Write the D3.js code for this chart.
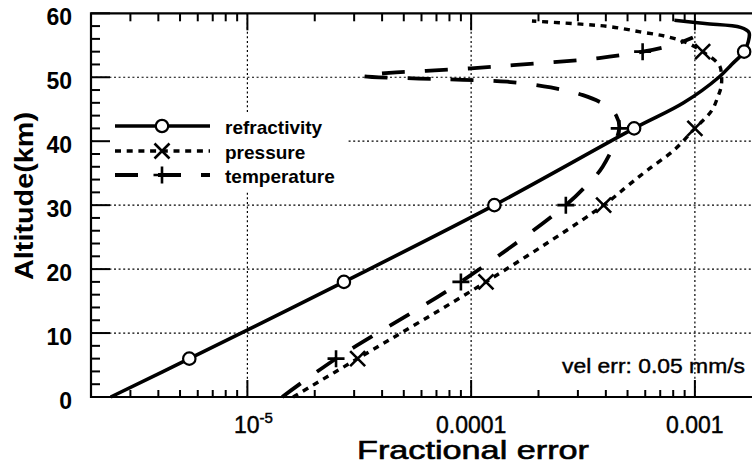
<!DOCTYPE html>
<html>
<head>
<meta charset="utf-8">
<script src="https://cdn.jsdelivr.net/npm/d3@7"></script>
<style>
  html, body { margin: 0; padding: 0; background: #fff; }
  svg { display: block; }
  text { font-family: "Liberation Sans", Arial, Helvetica, sans-serif; fill: #000; }
</style>
</head>
<body>
<svg id="chart" width="752" height="463"></svg>
<script>
// ---------------- data (altitude in km, fractional error) ----------------
const refrAlt = [0, 6, 18, 30, 42, 46, 50, 52, 54, 55.5, 57, 57.8, 58.4, 58.9];
const refrVal = [2.45e-6, 5.5e-6, 2.7e-5, 1.27e-4, 5.35e-4, 8.9e-4, 1.28e-3, 1.46e-3, 1.66e-3, 1.73e-3, 1.745e-3, 1.6e-3, 1.11e-3, 8.1e-4];

const presAlt = [0, 6, 18, 30, 33, 35.5, 38.6, 42, 44.8, 46.9, 48.5, 50.3, 51.9, 54, 55.4, 56.4, 57.1, 57.9, 58.3, 58.8];
const presVal = [1.6e-5, 3.11e-5, 1.165e-4, 3.91e-4, 5.0e-4, 6.15e-4, 8.06e-4, 1.0e-3, 1.19e-3, 1.265e-3, 1.31e-3, 1.315e-3, 1.285e-3, 1.083e-3, 9.2e-4, 7.4e-4, 5.7e-4, 4.2e-4, 3.1e-4, 1.87e-4];

const tempAlt = [0, 6, 18, 30, 33, 36, 42, 44, 45.6, 47.2, 48.4, 49.3, 49.6, 49.8, 50.2, 50.7, 51.0, 51.4, 51.9, 52.4, 53.0, 54, 55.2, 56.2];
const tempVal = [1.43e-5, 2.49e-5, 9.0e-5, 2.65e-4, 3.26e-4, 3.87e-4, 4.59e-4, 4.45e-4, 4.0e-4, 3.16e-4, 2.27e-4, 1.45e-4, 9.2e-5, 5.85e-5, 3.3e-5, 4.3e-5, 6.3e-5, 1.0e-4, 1.54e-4, 2.42e-4, 3.73e-4, 5.84e-4, 8.24e-4, 9.8e-4];

const markerAlts = [6, 18, 30, 42, 54];
const seriesNames = ["refractivity", "pressure", "temperature"];

const yMajorTicks = [0, 10, 20, 30, 40, 50, 60];
const yGridTicks = [10, 20, 30, 40, 50];
const xMajorTicks = [1e-5, 1e-4, 1e-3];
const xTickLabels = [["10", "-5"], ["0.0001", ""], ["0.001", ""]];
const xLabel = "Fractional error";
const yLabel = "Altitude(km)";
const note = "vel err: 0.05 mm/s";

// ---------------- scales ----------------
const svg = d3.select("#chart");
const pL = 91, pR = 752, pT = 13.3, pB = 397;
const x = d3.scaleLog().domain([2e-6, 1.8e-3]).range([pL, pR]);
const y = d3.scaleLinear().domain([0, 60]).range([pB, pT]);

// ---------------- grid ----------------
const grid = svg.append("g").attr("stroke", "#000").attr("stroke-width", 1.2).attr("stroke-dasharray", "2,2.6");
grid.selectAll(".gy").data(yGridTicks).join("line")
  .attr("x1", pL).attr("x2", pR).attr("y1", d => y(d)).attr("y2", d => y(d));
grid.selectAll(".gx").data(xMajorTicks).join("line")
  .attr("x1", d => x(d)).attr("x2", d => x(d)).attr("y1", pT).attr("y2", pB);

// legend background (hides the grid behind the legend)
svg.append("rect").attr("x", 93).attr("y", 112).attr("width", 254).attr("height", 78).attr("fill", "#fff");

// ---------------- ticks ----------------
const xMinor = x.ticks().filter(v => v > 2.05e-6 && xMajorTicks.every(m => Math.abs(v / m - 1) > 1e-6));
const yMinor = d3.range(2, 60, 2).filter(v => v % 10 !== 0);
const tk = svg.append("g").attr("stroke", "#000").attr("stroke-width", 2);
tk.selectAll(".bxm").data(xMinor).join("line")
  .attr("x1", d => x(d)).attr("x2", d => x(d)).attr("y1", pB).attr("y2", pB - 7);
tk.selectAll(".bxM").data(xMajorTicks).join("line")
  .attr("x1", d => x(d)).attr("x2", d => x(d)).attr("y1", pB).attr("y2", pB - 17);
tk.selectAll(".txm").data(xMinor).join("line")
  .attr("x1", d => x(d)).attr("x2", d => x(d)).attr("y1", pT).attr("y2", pT + 8);
tk.selectAll(".txM").data(xMajorTicks).join("line")
  .attr("x1", d => x(d)).attr("x2", d => x(d)).attr("y1", pT).attr("y2", pT + 17);
tk.selectAll(".lym").data(yMinor).join("line")
  .attr("x1", pL).attr("x2", pL + 9).attr("y1", d => y(d)).attr("y2", d => y(d));
tk.selectAll(".lyM").data(yMajorTicks).join("line")
  .attr("x1", pL).attr("x2", pL + 19).attr("y1", d => y(d)).attr("y2", d => y(d));

svg.append("path")
  .attr("d", `M${pR + 2},${pT} H${pL} V${pB} H${pR + 2}`)
  .attr("fill", "none").attr("stroke", "#000").attr("stroke-width", 2.2);

// ---------------- tick labels ----------------
svg.append("g").selectAll("text").data(yMajorTicks).join("text")
  .attr("x", 72).attr("y", d => y(d) + 11.5)
  .attr("text-anchor", "end").attr("font-size", 23).attr("font-weight", "bold")
  .text(d => d);

const xl = svg.append("g").selectAll("text").data(xMajorTicks).join("text")
  .attr("x", (d, i) => x(d) + (i === 0 ? 6 : 0)).attr("y", 433)
  .attr("text-anchor", "middle").attr("font-size", 23)
  .attr("stroke", "#000").attr("stroke-width", 0.45);
xl.append("tspan").text((d, i) => xTickLabels[i][0]);
xl.append("tspan").attr("dy", -10).attr("font-size", 15).text((d, i) => xTickLabels[i][1]);

svg.append("text").attr("x", 473).attr("y", 459).attr("text-anchor", "middle")
  .attr("font-size", 25).attr("stroke", "#000").attr("stroke-width", 0.6)
  .attr("textLength", 232).attr("lengthAdjust", "spacingAndGlyphs")
  .text(xLabel);

svg.append("text").attr("transform", "translate(33,196) rotate(-90)")
  .attr("text-anchor", "middle").attr("font-size", 26).attr("font-weight", "bold")
  .attr("textLength", 168).attr("lengthAdjust", "spacingAndGlyphs")
  .text(yLabel);

svg.append("text").attr("x", 562).attr("y", 373).attr("font-size", 20)
  .attr("stroke", "#000").attr("stroke-width", 0.4)
  .attr("textLength", 183).attr("lengthAdjust", "spacingAndGlyphs").text(note);

// ---------------- series ----------------
const styles = [
  { dash: null, width: 3.6 },
  { dash: "6,5.7", width: 3.4 },
  { dash: "23,20", width: 3.8 }
];
const series = [
  { alt: refrAlt, val: refrVal },
  { alt: presAlt, val: presVal },
  { alt: tempAlt, val: tempVal }
];
const line = d3.line().x(d => x(d[1])).y(d => y(d[0])).curve(d3.curveCatmullRom.alpha(0.5));

function marker(g, kind, cx, cy) {
  if (kind === 0) {
    g.append("circle").attr("cx", cx).attr("cy", cy).attr("r", 6.2)
      .attr("fill", "#fff").attr("stroke", "#000").attr("stroke-width", 2.2);
  } else if (kind === 1) {
    const s = 7.5;
    g.append("path").attr("d", `M${cx - s},${cy - s}L${cx + s},${cy + s}M${cx - s},${cy + s}L${cx + s},${cy - s}`)
      .attr("stroke", "#000").attr("stroke-width", 2.6).attr("fill", "none");
  } else {
    const s = 8.5;
    g.append("path").attr("d", `M${cx - s},${cy}L${cx + s},${cy}M${cx},${cy - s}L${cx},${cy + s}`)
      .attr("stroke", "#000").attr("stroke-width", 2.6).attr("fill", "none");
  }
}

series.forEach((s, i) => {
  const pts = s.alt.map((a, j) => [a, s.val[j]]);
  const g = svg.append("g");
  g.append("path").attr("d", line(pts)).attr("fill", "none").attr("stroke", "#000")
    .attr("stroke-width", styles[i].width).attr("stroke-dasharray", styles[i].dash)
    .attr("stroke-linejoin", "round");
  pts.filter(p => markerAlts.includes(p[0])).forEach(p => marker(g, i, x(p[1]), y(p[0])));
});

// ---------------- legend ----------------
const legRows = [126, 151, 175];
const lg = svg.append("g");
seriesNames.forEach((name, i) => {
  const ly = legRows[i];
  lg.append("line").attr("x1", 115).attr("x2", 210).attr("y1", ly).attr("y2", ly)
    .attr("stroke", "#000").attr("stroke-width", styles[i].width).attr("stroke-dasharray", styles[i].dash);
  marker(lg, i, 162, ly);
  lg.append("text").attr("x", 225).attr("y", ly + 7.5).attr("font-size", 19).attr("font-weight", "bold").text(name);
});
</script>
</body>
</html>
